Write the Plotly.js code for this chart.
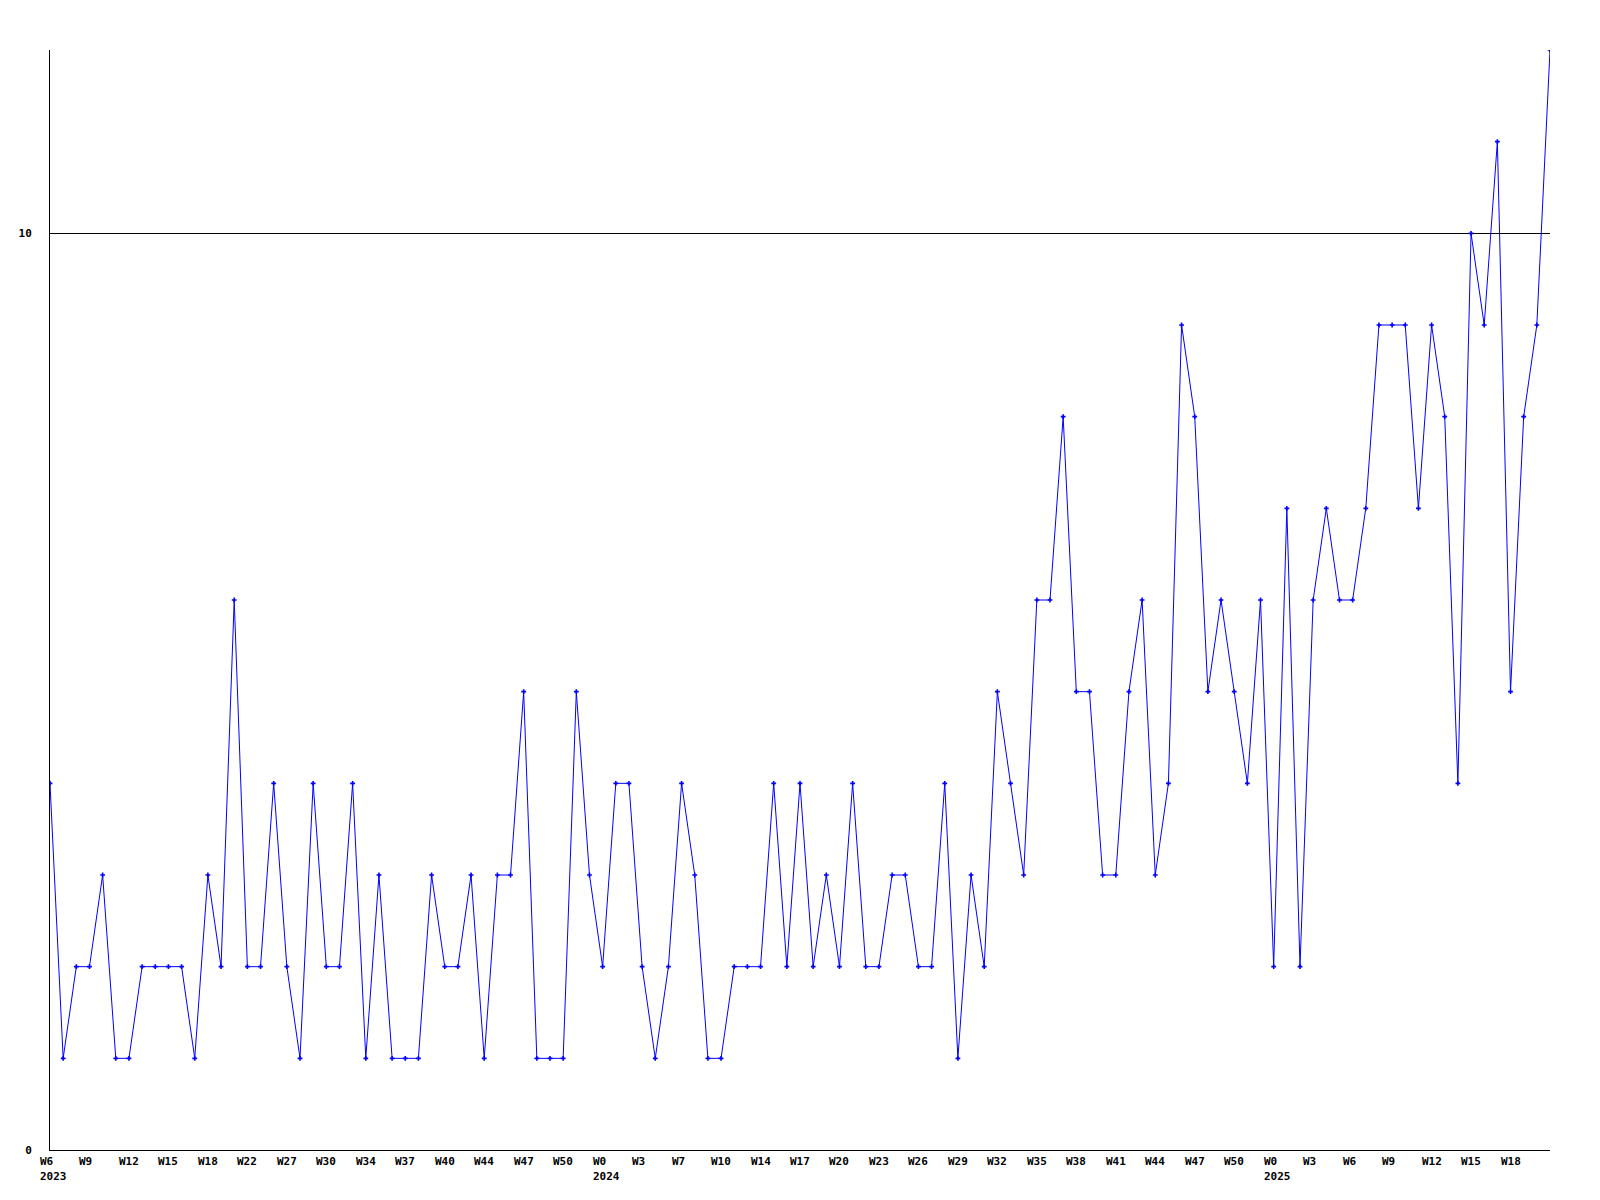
<!DOCTYPE html>
<html>
<head>
<meta charset="utf-8">
<script src="https://cdn.plot.ly/plotly-3.0.1.min.js"></script>
<style>html,body{margin:0;padding:0;background:#fff;}#chart{width:1600px;height:1200px;}</style>
</head>
<body>
<div id="chart"></div>
<script>
// Weekly values, one per plotted point (evenly spaced)
const values = [
  4,1,2,2,3,1,1,2,2,2,2,1,3,2,6,2,2,4,2,1,4,
  2,2,4,1,3,1,1,1,3,2,2,3,1,3,3,5,1,1,1,5,3,
  2,4,4,2,1,2,4,3,1,1,2,2,2,4,2,4,2,3,2,4,
  2,2,3,3,2,2,4,1,3,2,5,4,3,6,6,8,5,5,3,3,5,
  6,3,4,9,8,5,6,5,4,6,2,7,2,6,7,6,6,
  7,9,9,9,7,9,8,4,10,9,11,5,8,9,12
];
// Week tick labels, one for every third point
const weekLabels = [
  "W6","W9","W12","W15","W18","W22","W27","W30","W34","W37","W40","W44","W47","W50",
  "W0","W3","W7","W10","W14","W17","W20","W23","W26","W29","W32","W35","W38","W41","W44","W47","W50",
  "W0","W3","W6","W9","W12","W15","W18"
];
// Year labels placed under the week label with the given index
const yearLabels = ["2023","2024","2025"];
const yearLabelIndex = [0,14,31];
const labelStep = 3;

const xs = values.map((v,i)=>i);
const lblFont = {family:"DejaVu Sans Mono, Liberation Mono, monospace", size:11, color:"#000", weight:"bold"};

const annotations = [];
weekLabels.forEach((t,i)=>{
  annotations.push({x:i*labelStep, xref:"x", y:0, yref:"paper", text:t, showarrow:false,
    xanchor:"left", yanchor:"top", xshift:-11, yshift:-4, font:lblFont, borderpad:0});
});
yearLabels.forEach((t,j)=>{
  annotations.push({x:yearLabelIndex[j]*labelStep, xref:"x", y:0, yref:"paper", text:t, showarrow:false,
    xanchor:"left", yanchor:"top", xshift:-11, yshift:-19, font:lblFont, borderpad:0});
});

const trace = {
  x: xs, y: values, type:"scatter", mode:"lines+markers",
  line:{color:"#0000ff", width:1},
  marker:{color:"#0000ff", size:4, symbol:"cross"},
  cliponaxis:true, hoverinfo:"skip"
};

const layout = {
  width:1600, height:1200,
  margin:{l:50, r:50, t:50, b:50, pad:0},
  paper_bgcolor:"#fff", plot_bgcolor:"#fff",
  showlegend:false,
  xaxis:{range:[0, values.length-1], showgrid:false, zeroline:false, showline:true,
    linecolor:"#000", linewidth:1, showticklabels:false, ticks:""},
  yaxis:{range:[0,12], tickvals:[0,10], ticktext:["0","10"], showgrid:true, gridcolor:"#000", gridwidth:1,
    zeroline:false, showline:true, linecolor:"#000", linewidth:1, ticks:"",
    ticklabelstandoff:15, tickfont:lblFont},
  annotations: annotations
};

Plotly.newPlot("chart", [trace], layout, {staticPlot:true, displayModeBar:false});
</script>
</body>
</html>
